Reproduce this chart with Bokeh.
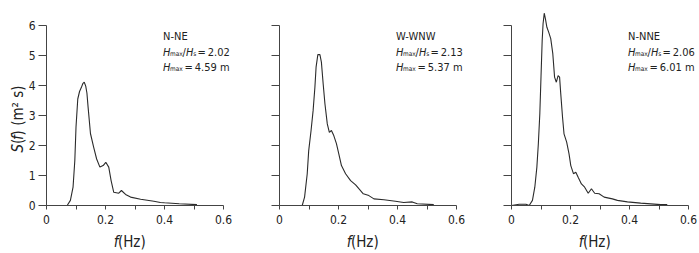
from math import pi
from bokeh.plotting import figure
from bokeh.layouts import row
from bokeh.models import Range1d, FixedTicker, Label, LinearAxis
from bokeh.embed import file_html
from bokeh.resources import INLINE

# ---------------- data ----------------
f1 = [0.0, 0.070, 0.081, 0.090, 0.096, 0.100, 0.106, 0.112, 0.118, 0.123, 0.128, 0.133,
      0.137, 0.141, 0.149, 0.160, 0.170, 0.181, 0.192, 0.201, 0.211, 0.219, 0.228, 0.245,
      0.254, 0.268, 0.285, 0.319, 0.364, 0.386, 0.400, 0.450, 0.510]
s1 = [0.0, 0.0, 0.17, 0.61, 1.50, 2.61, 3.55, 3.80, 3.93, 4.06, 4.11, 3.98,
      3.75, 3.28, 2.40, 1.94, 1.55, 1.28, 1.33, 1.44, 1.28, 0.83, 0.44, 0.41,
      0.50, 0.37, 0.28, 0.21, 0.14, 0.10, 0.09, 0.06, 0.03]

f2 = [0.0, 0.077, 0.085, 0.094, 0.099, 0.107, 0.114, 0.120, 0.124, 0.130, 0.137, 0.142,
      0.148, 0.154, 0.162, 0.169, 0.176, 0.184, 0.193, 0.201, 0.210, 0.224, 0.241, 0.258,
      0.269, 0.284, 0.303, 0.320, 0.354, 0.393, 0.421, 0.450, 0.467, 0.523]
s2 = [0.0, 0.0, 0.28, 1.06, 1.83, 2.50, 3.17, 3.94, 4.61, 5.03, 5.03, 4.78,
      4.06, 3.39, 2.72, 2.44, 2.50, 2.33, 2.06, 1.72, 1.33, 1.06, 0.83, 0.69,
      0.56, 0.39, 0.33, 0.22, 0.19, 0.14, 0.10, 0.12, 0.06, 0.03]

f3 = [0.0, 0.026, 0.049, 0.060, 0.071, 0.079, 0.086, 0.091, 0.096, 0.100, 0.104, 0.107,
      0.111, 0.115, 0.120, 0.126, 0.133, 0.140, 0.146, 0.152, 0.158, 0.163, 0.167, 0.173,
      0.178, 0.187, 0.195, 0.201, 0.210, 0.218, 0.226, 0.237, 0.248, 0.260, 0.271, 0.282,
      0.297, 0.314, 0.342, 0.359, 0.393, 0.438, 0.506, 0.528]
s3 = [0.0, 0.04, 0.04, 0.0, 0.17, 0.61, 1.28, 2.06, 3.06, 4.28, 5.50, 6.06,
      6.41, 6.22, 5.94, 5.78, 5.56, 5.06, 4.28, 4.11, 4.33, 4.28, 3.72, 2.94,
      2.39, 2.11, 1.72, 1.33, 1.06, 1.11, 0.94, 0.72, 0.61, 0.41, 0.56, 0.41,
      0.39, 0.28, 0.22, 0.17, 0.12, 0.08, 0.03, 0.03]

directions = ["N-NE", "W-WNW", "N-NNE"]
ratios = ["2.02", "2.13", "2.06"]
hmax_values = ["4.59", "5.37", "6.01"]

x_major = [0, 0.2, 0.4, 0.6]
x_minor = [0.1, 0.3, 0.5]
x_tick_labels = ["0", "0.2", "0.4", "0.6"]
y_ticks = [0, 1, 2, 3, 4, 5, 6]

# ---------------- style ----------------
FONT = "DejaVu Sans Condensed, Liberation Sans, sans-serif"
TXT = "#222222"
AXC = "#444444"
LINE = "#2b2b2b"

series = [(f1, s1), (f2, s2), (f3, s3)]
widths = [233, 232, 233]
left_px = [46, 46, 46]       # pixel distance from figure left edge to f = 0
H = 252
BOTTOM_PX = 47               # pixel distance from figure bottom to S = 0
XS = 295.0                   # px per Hz
YS = 30.0                    # px per m^2 s
TS = "\u2009"                # thin space


def lab(p, x, y, text, size, italic=False, xo=0, yo=0, align="left",
        baseline="alphabetic", angle=0.0):
    p.add_layout(Label(x=x, y=y, text=text, text_font=FONT, text_font_size=size,
                       text_font_style="italic" if italic else "normal",
                       x_offset=xo, y_offset=yo, text_align=align,
                       text_baseline=baseline, angle=angle, text_color=TXT))


figs = []
for i, (fx, sy) in enumerate(series):
    W = widths[i]
    xr = Range1d(-left_px[i] / XS, (W - left_px[i]) / XS)
    yr = Range1d(-BOTTOM_PX / YS, (H - BOTTOM_PX) / YS)
    p = figure(width=W, height=H, output_backend="svg", toolbar_location=None,
               x_range=xr, y_range=yr, x_axis_location=None, y_axis_location=None,
               min_border=0)
    p.outline_line_color = None
    p.grid.visible = False
    p.background_fill_color = "white"
    p.border_fill_color = "white"

    p.line(fx, sy, line_color=LINE, line_width=1.1)

    xa = LinearAxis(fixed_location=0)
    xa.ticker = FixedTicker(ticks=x_major, minor_ticks=x_minor)
    xa.major_label_overrides = {t: l for t, l in zip(x_major, x_tick_labels)}
    xa.bounds = (0, 0.6)
    ya = LinearAxis(fixed_location=0)
    ya.ticker = FixedTicker(ticks=y_ticks)
    ya.bounds = (0, 6)
    for ax in (xa, ya):
        ax.axis_line_color = AXC
        ax.major_tick_line_color = AXC
        ax.minor_tick_line_color = AXC
        ax.major_tick_in = 0
        ax.minor_tick_in = 0
        ax.major_label_text_font = FONT
        ax.major_label_text_font_size = "12px"
        ax.major_label_text_color = TXT
    xa.major_tick_out = 4
    xa.minor_tick_out = 4
    xa.major_label_standoff = 5
    ya.major_tick_out = 8
    ya.minor_tick_out = 0
    ya.major_label_standoff = 3
    if i > 0:
        ya.major_label_text_alpha = 0
    p.add_layout(xa, "below")
    p.add_layout(ya, "left")

    # annotation block
    x0 = 0.395
    lab(p, x0, 5.63, directions[i], "11px")
    lab(p, x0, 5.11, "H", "11px", italic=True)
    lab(p, x0, 5.11, "max", "6.5px", xo=7, yo=-2.2)
    lab(p, x0, 5.11, "/", "11px", xo=19.5)
    lab(p, x0, 5.11, "H", "11px", italic=True, xo=23)
    lab(p, x0, 5.11, "s", "6.5px", xo=30.2, yo=-2.2)
    lab(p, x0, 5.11, "=" + TS + ratios[i], "11px", xo=34.5)
    lab(p, x0, 4.61, "H", "11px", italic=True)
    lab(p, x0, 4.61, "max", "6.5px", xo=7, yo=-2.2)
    lab(p, x0, 4.61, "=" + TS + hmax_values[i] + " m", "11px", xo=21.5)

    # x axis label
    lab(p, 0.242, -1.22, "f", "15px", italic=True, xo=0.5, align="right", baseline="middle")
    lab(p, 0.242, -1.22, "(Hz)", "15px", baseline="middle")

    if i == 0:
        xl = -0.095
        lab(p, xl, 1.77, "S", "15px", italic=True, angle=pi / 2, baseline="middle")
        lab(p, xl, 1.77, "(", "15px", yo=8.5, angle=pi / 2, baseline="middle")
        lab(p, xl, 1.77, "f", "15px", italic=True, yo=12.5, angle=pi / 2, baseline="middle")
        lab(p, xl, 1.77, ") (m\u00b2 s)", "15px", yo=17, angle=pi / 2, baseline="middle")
    figs.append(p)

layout = row(*figs)
open("out.html", "w").write(file_html(layout, INLINE))
